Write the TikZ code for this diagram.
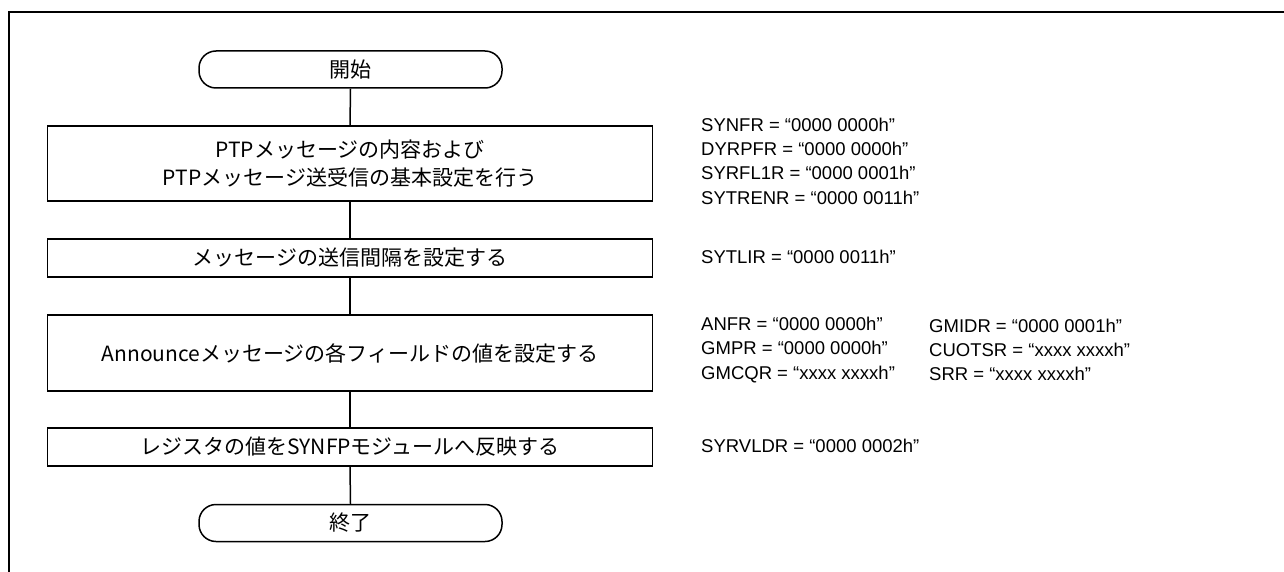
\documentclass[tikz,border=0pt]{standalone}
\usepackage{fontspec}
\setmainfont{Liberation Sans}
\newfontfamily\jp{Noto Sans CJK JP}
\begin{document}
\begin{tikzpicture}[x=1pt,y=-1pt,
  box/.style={draw,line width=1.5pt,minimum width=605pt,inner sep=0pt,align=center,font=\jp\fontsize{21}{28}\selectfont},
  term/.style={draw,line width=1.5pt,rounded corners=17pt,minimum width=303pt,minimum height=37pt,inner sep=0pt,font=\jp\fontsize{21}{28}\selectfont},
  reg/.style={anchor=west,inner sep=0pt,align=left,font=\fontsize{18.5}{24.3}\selectfont},
  conn/.style={line width=1.5pt},
  frame/.style={line width=2pt}]
\useasboundingbox (0,0) rectangle (1284,572);
\coordinate (fa) at (9,572);
\coordinate (fb) at (9,12.5);
\coordinate (fc) at (1284,12.5);
\draw[frame] (fa) -- (fb) -- (fc);
\node[term] (start) at (350.5,69.5) {開始};
\node[box,minimum height=75pt] (b1) at (350,163.5) {PTPメッセージの内容および\\PTPメッセージ送受信の基本設定を行う};
\node[box,minimum height=38pt] (b2) at (350,258) {メッセージの送信間隔を設定する};
\node[box,minimum height=76pt] (b3) at (350,353) {Announceメッセージの各フィールドの値を設定する};
\node[box,minimum height=38pt] (b4) at (350,447) {レジスタの値をSYNFPモジュールへ反映する};
\node[term] (end) at (350.5,523) {終了};
\draw[conn] (start.south) -- (b1.north);
\draw[conn] (b1.south) -- (b2.north);
\draw[conn] (b2.south) -- (b3.north);
\draw[conn] (b3.south) -- (b4.north);
\draw[conn] (b4.south) -- (end.north);
\node[reg] (r1) at (701,161) {SYNFR = “0000 0000h”\\DYRPFR = “0000 0000h”\\SYRFL1R = “0000 0001h”\\SYTRENR = “0000 0011h”};
\node[reg] (r2) at (701,257) {SYTLIR = “0000 0011h”};
\node[reg] (r3) at (701,350) {ANFR = “0000 0000h”\\GMPR = “0000 0000h”\\GMCQR = “xxxx xxxxh”};
\node[reg] (r4) at (929,350) {GMIDR = “0000 0001h”\\CUOTSR = “xxxx xxxxh”\\SRR = “xxxx xxxxh”};
\node[reg] (r5) at (701,446) {SYRVLDR = “0000 0002h”};
\end{tikzpicture}
\end{document}
